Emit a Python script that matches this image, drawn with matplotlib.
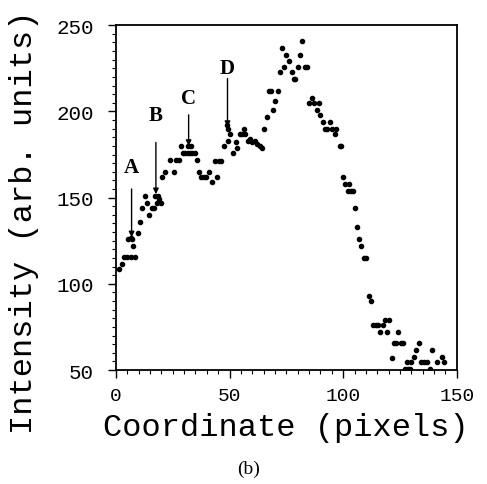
import numpy as np
import matplotlib.pyplot as plt
from matplotlib.ticker import MultipleLocator

# intensity profile (coordinate in pixels, intensity in arb. units)
coord = [1.3, 2.9, 3.5, 5.0, 6.5, 8.5, 5.5, 6.5, 7.2, 7.7, 9.6, 10.6, 11.6, 12.6, 13.7,
         14.7, 15.7, 16.7, 17.3, 18.0, 18.5, 19.0, 19.7, 20.3, 21.6, 23.6, 25.4, 26.4,
         27.6, 28.6, 29.6, 30.6, 31.6, 32.6, 33.6, 34.6, 31.9, 33.0, 35.6, 36.6, 37.6,
         38.6, 39.6, 41.0, 42.5, 43.6, 44.6, 45.4, 46.4, 47.5, 48.7, 49.5, 50.4, 49.3,
         51.6, 52.9, 53.1, 54.6, 55.4, 56.3, 57.0, 58.0, 59.0, 60.0, 61.0, 62.0, 63.4,
         64.5, 65.0, 66.3, 67.3, 68.3, 69.2, 70.0, 71.3, 72.1, 72.9, 73.9, 75.0, 76.0,
         77.3, 78.2, 79.0, 80.0, 81.2, 82.0, 83.2, 84.2, 85.0, 86.2, 87.0, 88.3, 89.4,
         90.0, 91.2, 92.0, 93.0, 94.1, 95.0, 96.2, 97.0, 98.4, 99.2, 100.0, 101.0, 102.0,
         102.5, 103.3, 104.2, 105.1, 106.2, 107.0, 108.0, 109.0, 110.2, 111.3, 112.3,
         113.2, 114.3, 115.4, 116.4, 117.5, 118.3, 119.4, 120.2, 121.3, 122.3, 123.3,
         124.2, 125.3, 126.5, 127.2, 128.3, 128.6, 129.5, 129.9, 131.2, 132.2, 133.3,
         134.2, 135.6, 136.9, 138.1, 139.2, 141.4, 143.3, 144.3]
intensity = [108.5, 111.5, 115.5, 115.5, 115.5, 115.5, 126, 126.5, 126, 122, 129.5, 136, 144,
             151, 147, 140, 144, 144, 151, 147, 151, 149, 147, 162, 165, 172, 165, 172,
             172, 180, 176, 176, 176, 176, 176, 176, 180, 180, 172, 165, 162,
             162, 162, 165, 159, 171, 162, 171, 171, 180, 192, 190, 187, 183,
             176, 182, 179, 187, 187, 190, 187, 183, 184, 182, 183, 181, 180,
             179, 190, 197, 212, 212, 201, 206, 212, 223, 237, 226, 233, 229,
             223, 219, 219, 226, 233, 241, 226, 226, 205, 208, 205, 201, 205,
             198, 194, 190, 190, 194, 190, 187, 190, 180, 180, 162, 158, 154,
             158, 154, 154, 144, 133, 126, 122, 115, 115, 93, 90,
             76, 76, 76, 72, 76, 79, 72, 79, 57, 65.5, 65.5,
             72, 65.5, 65.5, 50.6, 54.5, 50.6, 50.6, 54.5, 57.7, 61.6, 65.5,
             54.5, 54.5, 54.5, 50.6, 61.6, 54.5, 57.7, 54.5]

# arrow labels: letter, x, arrow top, arrow tip, letter y
marks = ['A', 'B', 'C', 'D']
mark_x = [6.9, 17.6, 32.0, 49.1]
mark_top = [155, 182, 198, 219]
mark_tip = [127, 152, 180, 191]
mark_text_y = [168, 198, 208, 225]

mono = 'Liberation Mono'
serif = 'Liberation Serif'

fig = plt.figure(figsize=(4.87, 4.85), dpi=100)
ax = fig.add_axes([0.238, 0.235, 0.700, 0.711])

ax.plot(coord, intensity, linestyle='none', marker='o', markersize=3.0, color='black')

for m, x, top, tip, ty in zip(marks, mark_x, mark_top, mark_tip, mark_text_y):
    ax.annotate('', xy=(x, tip), xytext=(x, top),
                arrowprops=dict(arrowstyle='-|>', color='black', lw=1.0,
                                mutation_scale=8, shrinkA=0, shrinkB=0))
    ax.text(x, ty, m, ha='center', va='center', fontsize=15, fontweight='bold',
            family=serif)

ax.set_xlim(0, 150)
ax.set_ylim(50, 250)
ax.xaxis.set_major_locator(MultipleLocator(50))
ax.xaxis.set_minor_locator(MultipleLocator(5))
ax.yaxis.set_major_locator(MultipleLocator(50))
ax.yaxis.set_minor_locator(MultipleLocator(5))
ax.tick_params(which='major', direction='out', length=6, width=1.0, labelsize=14)
ax.tick_params(axis='x', which='major', pad=6)
ax.tick_params(axis='y', which='major', pad=10, labelsize=15)
ax.tick_params(which='minor', direction='out', length=3, width=0.8)
for lab in ax.get_xticklabels() + ax.get_yticklabels():
    lab.set_family(mono)
for s in ax.spines.values():
    s.set_linewidth(1.3)

ax.set_xlabel('Coordinate (pixels)', family=mono, fontsize=23, labelpad=6)
fig.text(0.05, 0.542, 'Intensity (arb. units)', family=mono, fontsize=23,
         rotation=90, ha='center', va='center')
fig.text(0.51, 0.033, '(b)', family=serif, fontsize=14, ha='center', va='center')

plt.savefig('out.png', dpi=100)
